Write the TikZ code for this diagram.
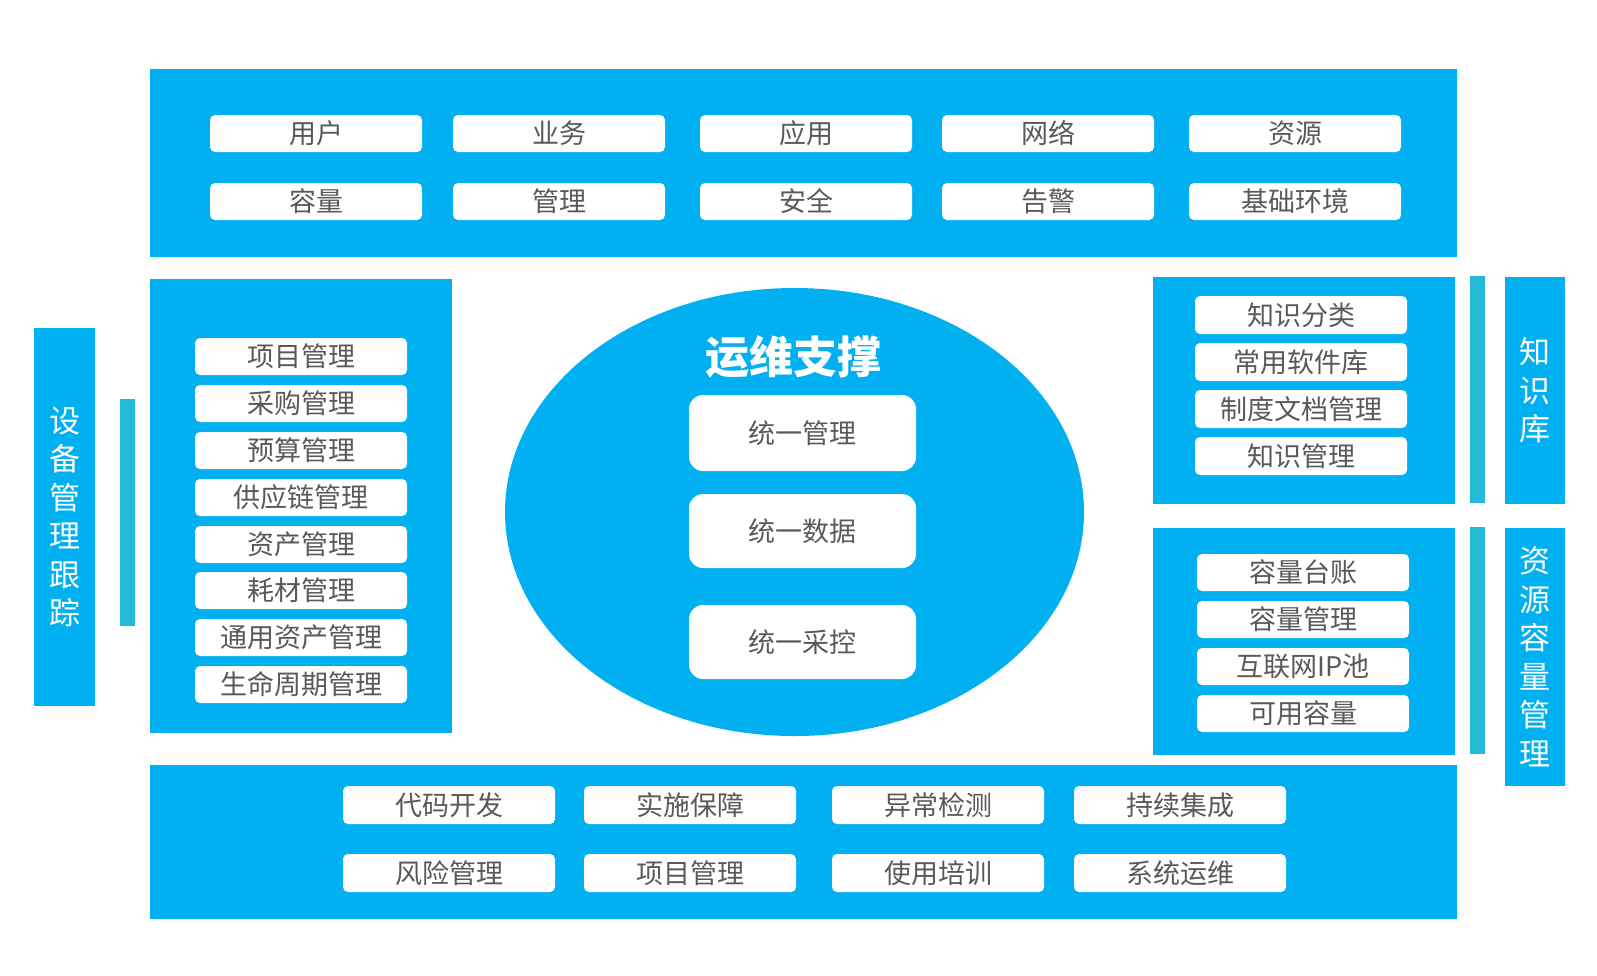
\documentclass[tikz,border=0pt]{standalone}
\usepackage{fontspec}
\setmainfont{Noto Sans CJK SC}
\usetikzlibrary{shapes.geometric}
\definecolor{mainblue}{RGB}{0,176,240}
\definecolor{tealbar}{RGB}{36,186,216}
\definecolor{boxtext}{RGB}{89,89,89}
\tikzset{
  panel/.style={fill=mainblue, draw=none, inner sep=0pt, outer sep=0pt},
  wbox/.style={fill=white, draw=none, rounded corners=5pt, inner sep=0pt, outer sep=0pt,
    minimum width=212pt, minimum height=37pt, text=boxtext, font=\fontsize{27}{30}\selectfont},
  cbox/.style={fill=white, draw=none, rounded corners=14pt, inner sep=0pt, outer sep=0pt,
    minimum width=227pt, minimum height=74pt, text=boxtext, font=\fontsize{27}{30}\selectfont},
  sidecol/.style={fill=mainblue, draw=none, inner sep=0pt, outer sep=0pt, text=white,
    align=center, font=\fontsize{31}{38.5}\selectfont},
  tbar/.style={fill=tealbar, draw=none, inner sep=0pt, outer sep=0pt, minimum width=15pt},
}
\begin{document}
\begin{tikzpicture}[x=1pt,y=-1pt]
\useasboundingbox (0,0) rectangle (1597,975);
% panels
\node[panel, minimum width=1307pt, minimum height=188pt] (toppanel) at (803.5,163) {};
\node[panel, minimum width=302pt, minimum height=454pt] (leftpanel) at (301,506) {};
\node[panel, minimum width=302pt, minimum height=227pt] (urpanel) at (1304,390.5) {};
\node[panel, minimum width=302pt, minimum height=227pt] (lrpanel) at (1304,641.5) {};
\node[panel, minimum width=1307pt, minimum height=154pt] (botpanel) at (803.5,842) {};
% side columns
\node[sidecol, minimum width=61pt, minimum height=378pt] (devcol) at (64.5,517) {设\\备\\管\\理\\跟\\踪};
\node[sidecol, minimum width=60pt, minimum height=227pt] (kbcol) at (1535,390.5) {知\\识\\库};
\node[sidecol, minimum width=60pt, minimum height=258pt] (rescol) at (1535,657) {资\\源\\容\\量\\管\\理};
% teal bars
\node[tbar, minimum height=227pt] (lbar) at (127.5,512.5) {};
\node[tbar, minimum height=227pt] (rbar1) at (1477.5,389.5) {};
\node[tbar, minimum height=227pt] (rbar2) at (1477.5,640.5) {};
% ellipse
\node[ellipse, panel, minimum width=579pt, minimum height=448pt] (hub) at (794.5,512) {};
\node[text=white, font=\fontsize{44}{48}\selectfont\bfseries, inner sep=0pt] (title) at (793,357) {运维支撑};
\node[cbox, minimum height=76pt] (c1) at (802.5,433) {统一管理};
\node[cbox] (c2) at (802.5,531) {统一数据};
\node[cbox] (c3) at (802.5,642) {统一采控};
% top boxes
\node[wbox] (t1) at (316,133.5) {用户};
\node[wbox] (t2) at (559,133.5) {业务};
\node[wbox] (t3) at (806,133.5) {应用};
\node[wbox] (t4) at (1048,133.5) {网络};
\node[wbox] (t5) at (1295,133.5) {资源};
\node[wbox] (t6) at (316,201.5) {容量};
\node[wbox] (t7) at (559,201.5) {管理};
\node[wbox] (t8) at (806,201.5) {安全};
\node[wbox] (t9) at (1048,201.5) {告警};
\node[wbox] (t10) at (1295,201.5) {基础环境};
% left boxes
\node[wbox] (l1) at (301,356.5) {项目管理};
\node[wbox] (l2) at (301,403.5) {采购管理};
\node[wbox] (l3) at (301,450.5) {预算管理};
\node[wbox] (l4) at (301,497.5) {供应链管理};
\node[wbox] (l5) at (301,544.5) {资产管理};
\node[wbox] (l6) at (301,590.5) {耗材管理};
\node[wbox] (l7) at (301,637.5) {通用资产管理};
\node[wbox] (l8) at (301,684.5) {生命周期管理};
% upper right boxes
\node[wbox, minimum height=38pt] (k1) at (1301,315) {知识分类};
\node[wbox, minimum height=38pt] (k2) at (1301,362) {常用软件库};
\node[wbox, minimum height=38pt] (k3) at (1301,409) {制度文档管理};
\node[wbox, minimum height=38pt] (k4) at (1301,456) {知识管理};
% lower right boxes
\node[wbox] (r1) at (1303,572.5) {容量台账};
\node[wbox] (r2) at (1303,619.5) {容量管理};
\node[wbox] (r3) at (1303,666.5) {互联网IP池};
\node[wbox] (r4) at (1303,713.5) {可用容量};
% bottom boxes
\node[wbox, minimum height=38pt] (b1) at (449,805) {代码开发};
\node[wbox, minimum height=38pt] (b2) at (690,805) {实施保障};
\node[wbox, minimum height=38pt] (b3) at (938,805) {异常检测};
\node[wbox, minimum height=38pt] (b4) at (1180,805) {持续集成};
\node[wbox, minimum height=38pt] (b5) at (449,873) {风险管理};
\node[wbox, minimum height=38pt] (b6) at (690,873) {项目管理};
\node[wbox, minimum height=38pt] (b7) at (938,873) {使用培训};
\node[wbox, minimum height=38pt] (b8) at (1180,873) {系统运维};
\end{tikzpicture}
\end{document}
